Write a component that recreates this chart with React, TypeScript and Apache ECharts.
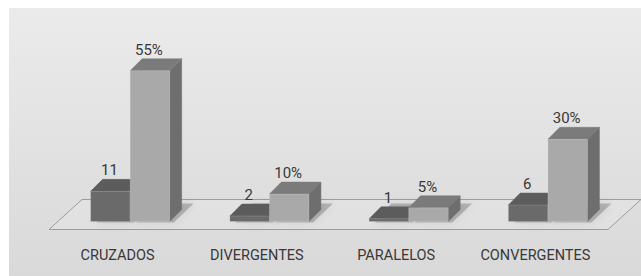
import React, { useEffect, useRef } from "react";
import * as echarts from "echarts";

const categories = ["CRUZADOS", "DIVERGENTES", "PARALELOS", "CONVERGENTES"];
const counts = [11, 2, 1, 6];
const percents = [55, 10, 5, 30];

const FONT = 'Roboto, "Liberation Sans", sans-serif';

type Colors = { front: string; top: string; side: string };
const darkColors: Colors = { front: "#6a6a6a", top: "#5c5c5c", side: "#525252" };
const lightColors: Colors = { front: "#a9a9a9", top: "#7b7b7b", side: "#6e6e6e" };

function makeBar(side: number, colors: Colors, suffix: string) {
  return (params: any, api: any) => {
    const i = api.value(0);
    const v = api.value(1);
    const b = api.coord([i, 0]);
    const t = api.coord([i, v]);
    const bw = api.size([1, 0])[0];
    const w = bw * 0.284;
    const d = bw * 0.086;
    const off = bw * 0.09;
    const x0 = b[0] + off + (side === 0 ? -w : 0);
    const x1 = x0 + w;
    const yb = b[1];
    const yt = t[1];
    return {
      type: "group",
      children: [
        {
          type: "polygon",
          shape: {
            points: [
              [x0 + 6, yb + 1],
              [x1 + 4, yb + 1],
              [x1 + d + 12, yb - d - 6],
              [x0 + d + 10, yb - d - 6],
            ],
          },
          style: { fill: "rgba(0,0,0,0.2)", shadowBlur: 8, shadowColor: "rgba(0,0,0,0.4)" },
        },
        {
          type: "polygon",
          shape: { points: [[x1, yt], [x1 + d, yt - d], [x1 + d, yb - d], [x1, yb]] },
          style: { fill: colors.side, stroke: colors.side, lineWidth: 0.5 },
        },
        {
          type: "polygon",
          shape: { points: [[x0, yt], [x0 + d, yt - d], [x1 + d, yt - d], [x1, yt]] },
          style: { fill: colors.top, stroke: colors.top, lineWidth: 0.5 },
        },
        {
          type: "rect",
          shape: { x: x0, y: yt, width: w, height: yb - yt },
          style: { fill: colors.front, stroke: "rgba(255,255,255,0.25)", lineWidth: 0.6 },
        },
        {
          type: "text",
          x: (x0 + x1) / 2 - 1,
          y: yt - d - 9,
          style: {
            text: String(v) + suffix,
            align: "center",
            verticalAlign: "middle",
            fontSize: 15,
            fontFamily: FONT,
            fill: "#383838",
          },
        },
      ],
    };
  };
}

function floorItem(params: any, api: any) {
  const cs = params.coordSys;
  const left = cs.x;
  const right = cs.x + cs.width;
  const base = cs.y + cs.height;
  return {
    type: "polygon",
    shape: {
      points: [
        [left + 1, base + 8],
        [right + 3, base + 8],
        [right + 36, base - 22],
        [left + 34, base - 22],
      ],
    },
    style: { fill: "rgba(255,255,255,0.12)", stroke: "#9c9c9c", lineWidth: 1 },
  };
}

export default function App() {
  const ref = useRef<HTMLDivElement>(null);
  useEffect(() => {
    if (!ref.current) return;
    const chart = echarts.init(ref.current, undefined, { renderer: "svg" });
    chart.setOption({
      animation: false,
      grid: { left: 39, right: 36, top: 49, bottom: 54.5 },
      xAxis: {
        type: "category",
        data: categories,
        axisLine: { show: false },
        axisTick: { show: false },
        splitLine: { show: false },
        axisLabel: {
          margin: 26,
          color: "#383838",
          fontSize: 14.5,
          fontFamily: FONT,
          interval: 0,
        },
      },
      yAxis: {
        type: "value",
        min: 0,
        max: 60,
        show: false,
        splitLine: { show: false },
      },
      series: [
        {
          type: "custom",
          z: 1,
          data: [[0, 0]],
          renderItem: floorItem,
          silent: true,
        },
        {
          type: "custom",
          z: 2,
          data: counts.map((v, i) => [i, v]),
          encode: { x: 0, y: 1 },
          renderItem: makeBar(0, darkColors, ""),
        },
        {
          type: "custom",
          z: 3,
          data: percents.map((v, i) => [i, v]),
          encode: { x: 0, y: 1 },
          renderItem: makeBar(1, lightColors, "%"),
        },
      ],
    });
    return () => chart.dispose();
  }, []);
  return (
    <div style={{ position: "fixed", left: 0, top: 0, width: 641, height: 276, background: "#ffffff", overflow: "hidden" }}>
      <div
        ref={ref}
        style={{
          position: "absolute",
          left: 9,
          top: 8,
          width: 632,
          height: 268,
          background: "linear-gradient(#ebebeb, #d9d9d9)",
        }}
      />
    </div>
  );
}
